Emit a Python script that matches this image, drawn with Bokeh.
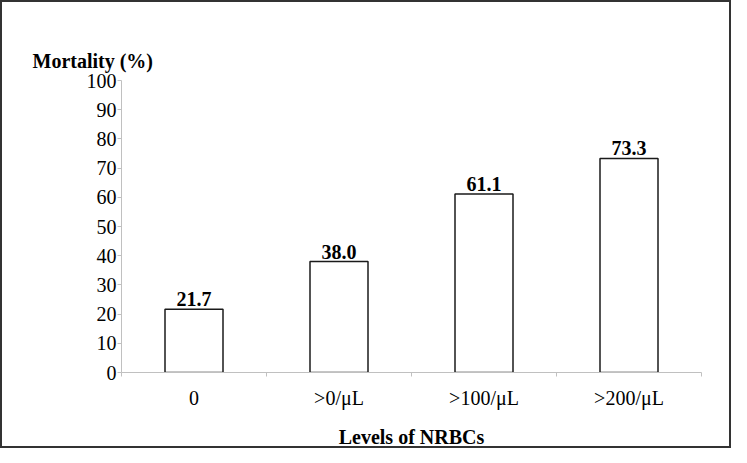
from bokeh.plotting import figure
from bokeh.models import Range1d, FixedTicker, ColumnDataSource, LabelSet, Title
from bokeh.embed import file_html
from bokeh.resources import INLINE

categories = ["0", ">0/\u03bcL", ">100/\u03bcL", ">200/\u03bcL"]
mortality = [21.7, 38.0, 61.1, 73.3]
y_ticks = [0, 10, 20, 30, 40, 50, 60, 70, 80, 90, 100]

FONT = "Liberation Serif"

xs = [i + 0.5 for i in range(len(categories))]
src = ColumnDataSource(dict(x=xs, top=mortality, lab=["%.1f" % v for v in mortality]))

p = figure(width=731, height=448, output_backend="svg", toolbar_location=None,
           x_range=Range1d(0, len(categories)), y_range=Range1d(0, 100),
           min_border_left=119, min_border_right=32, min_border_top=78, min_border_bottom=78)
p.styles = {"border": "2px solid #333333"}
p.outline_line_color = None
p.background_fill_color = "white"
p.border_fill_color = "white"
p.xgrid.visible = False
p.ygrid.visible = False

p.vbar(x="x", top="top", bottom=0, width=0.4, source=src,
       fill_color="white", line_color="#1a1a1a", line_width=1.5)

labels = LabelSet(x="x", y="top", text="lab", source=src, text_align="center",
                  text_baseline="alphabetic", y_offset=3,
                  text_font=FONT, text_font_size="20px", text_font_style="bold",
                  text_color="black")
p.add_layout(labels)

# Y axis
ya = p.yaxis[0]
ya.ticker = FixedTicker(ticks=y_ticks, minor_ticks=[])
ya.axis_line_color = "#c0c0c0"
ya.major_tick_line_color = "#c0c0c0"
ya.major_tick_out = 4
ya.major_tick_in = 0
ya.minor_tick_line_color = None
ya.major_label_standoff = 1
ya.major_label_text_font = FONT
ya.major_label_text_font_size = "20px"
ya.major_label_text_color = "black"

# X axis
xa = p.xaxis[0]
xa.ticker = FixedTicker(ticks=xs, minor_ticks=list(range(len(categories) + 1)))
xa.major_label_overrides = {x: c for x, c in zip(xs, categories)}
xa.axis_line_color = "#c0c0c0"
xa.major_tick_line_color = None
xa.minor_tick_line_color = "#c0c0c0"
xa.minor_tick_out = 4
xa.minor_tick_in = 0
xa.major_tick_out = 4
xa.major_label_standoff = 10
xa.major_label_text_font = FONT
xa.major_label_text_font_size = "20px"
xa.major_label_text_color = "black"
xa.axis_label = "Levels of NRBCs"
xa.axis_label_text_font = FONT
xa.axis_label_text_font_size = "20px"
xa.axis_label_text_font_style = "bold"
xa.axis_label_text_color = "black"
xa.axis_label_standoff = 14

p.add_layout(Title(text="Mortality (%)", align="left", offset=-89, standoff=17,
                   text_font=FONT, text_font_size="20px", text_font_style="bold",
                   text_color="black"), "above")

open("out.html", "w").write(file_html(p, INLINE))
